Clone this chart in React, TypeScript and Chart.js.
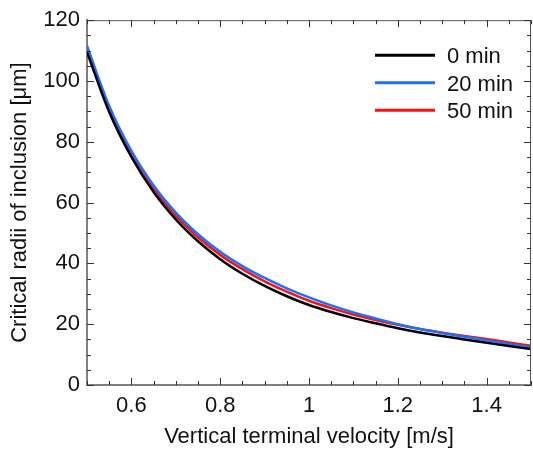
import React, { useEffect, useRef } from 'react';
import { Chart, registerables } from 'chart.js';

Chart.register(...registerables);

// ---- data ----
const velocity = [0.5, 0.55, 0.6, 0.65, 0.7, 0.75, 0.8, 0.85, 0.9, 0.95, 1.0, 1.05, 1.1, 1.15, 1.2, 1.25, 1.3, 1.35, 1.4, 1.45, 1.5];
const radius0min = [109.5, 89.8, 75.0, 63.5, 54.5, 47.3, 41.4, 36.6, 32.6, 29.2, 26.3, 24.0, 22.0, 20.3, 18.7, 17.3, 16.1, 15.0, 13.9, 12.8, 11.8];
const radius20min = [111.5, 91.8, 77.0, 65.6, 56.7, 49.6, 43.8, 39.1, 35.2, 31.8, 28.8, 26.2, 23.9, 21.9, 20.0, 18.4, 17.1, 15.9, 14.7, 13.5, 12.4];
const radius50min = [110.5, 90.8, 76.0, 64.6, 55.7, 48.6, 42.8, 38.1, 34.1, 30.7, 27.7, 25.3, 23.2, 21.4, 19.8, 18.4, 17.2, 16.1, 15.1, 14.0, 12.9];
const seriesLabels = ['0 min', '20 min', '50 min'];
const seriesColors = ['#000000', '#1f6fff', '#ff1010'];
const xMajorTicks = [0.6, 0.8, 1.0, 1.2, 1.4];
const xMinorTicks = [0.5, 0.55, 0.6, 0.65, 0.7, 0.75, 0.8, 0.85, 0.9, 0.95, 1.0, 1.05, 1.1, 1.15, 1.2, 1.25, 1.3, 1.35, 1.4, 1.45, 1.5];
const yMajorTicks = [0, 20, 40, 60, 80, 100, 120];
const yMinorTicks = [0, 5, 10, 15, 20, 25, 30, 35, 40, 45, 50, 55, 60, 65, 70, 75, 80, 85, 90, 95, 100, 105, 110, 115, 120];
const xTitle = 'Vertical terminal velocity [m/s]';
const yTitle = 'Critical radii of inclusion [μm]';

const FONT = '"Liberation Sans", Arial, Helvetica, sans-serif';
const TEXT = '#111111';

const frameTicksPlugin = {
  id: 'frameTicks',
  afterDraw(chart: any) {
    const { ctx, chartArea, scales } = chart;
    const { left, right, top, bottom } = chartArea;
    const x = scales.x;
    const y = scales.y;
    ctx.save();
    ctx.strokeStyle = '#555555';
    ctx.lineWidth = 1;
    ctx.beginPath();
    ctx.moveTo(left, top + 0.5);
    ctx.lineTo(right, top + 0.5);
    ctx.moveTo(right - 0.5, top);
    ctx.lineTo(right - 0.5, bottom);
    ctx.stroke();
    ctx.strokeStyle = '#333333';
    ctx.beginPath();
    xMinorTicks.forEach((v) => {
      const major = xMajorTicks.some((m) => Math.abs(m - v) < 1e-6);
      const len = major ? 7 : 4;
      const px = Math.round(x.getPixelForValue(v)) + 0.5;
      ctx.moveTo(px, bottom);
      ctx.lineTo(px, bottom - len);
      ctx.moveTo(px, top);
      ctx.lineTo(px, top + len);
    });
    yMinorTicks.forEach((v) => {
      const major = yMajorTicks.includes(v);
      const len = major ? 7 : 4;
      const py = Math.round(y.getPixelForValue(v)) + 0.5;
      ctx.moveTo(left, py);
      ctx.lineTo(left + len, py);
      ctx.moveTo(right, py);
      ctx.lineTo(right - len, py);
    });
    ctx.stroke();
    ctx.restore();
  },
};

const legendPlugin = {
  id: 'customLegend',
  afterDatasetsDraw(chart: any) {
    const { ctx, chartArea } = chart;
    const lineStart = chartArea.right - 156;
    const lineEnd = chartArea.right - 96;
    const textX = chartArea.right - 84;
    ctx.save();
    ctx.font = `22px ${FONT}`;
    ctx.textAlign = 'left';
    ctx.textBaseline = 'alphabetic';
    chart.data.datasets.forEach((ds: any, i: number) => {
      const rowY = chartArea.top + 35 + i * 27.5;
      ctx.strokeStyle = ds.borderColor;
      ctx.lineWidth = 3;
      ctx.beginPath();
      ctx.moveTo(lineStart, rowY);
      ctx.lineTo(lineEnd, rowY);
      ctx.stroke();
      ctx.fillStyle = TEXT;
      ctx.fillText(ds.label, textX, rowY + 8);
    });
    ctx.restore();
  },
};

export default function App() {
  const canvasRef = useRef<HTMLCanvasElement | null>(null);

  useEffect(() => {
    const canvas = canvasRef.current;
    if (!canvas) return;
    const series = [radius0min, radius20min, radius50min];
    const chart = new Chart(canvas, {
      type: 'line',
      data: {
        datasets: series.map((vals, i) => ({
          label: seriesLabels[i],
          data: velocity.map((v, j) => ({ x: v, y: vals[j] })),
          borderColor: seriesColors[i],
          backgroundColor: seriesColors[i],
          borderWidth: 2.5,
          pointRadius: 0,
          fill: false,
          cubicInterpolationMode: 'monotone' as const,
        })),
      },
      options: {
        responsive: false,
        animation: false,
        devicePixelRatio: 1,
        layout: { padding: { top: 17, right: 2, left: 0, bottom: 0 } },
        plugins: {
          legend: { display: false },
          tooltip: { enabled: false },
        },
        scales: {
          x: {
            type: 'linear',
            min: 0.5,
            max: 1.5,
            afterFit: (s: any) => { s.height = 67; },
            afterBuildTicks: (s: any) => { s.ticks = xMajorTicks.map((v) => ({ value: v })); },
            grid: { display: false, drawTicks: false },
            border: { display: true, color: '#808080', width: 2 },
            ticks: {
              color: TEXT,
              font: { family: FONT, size: 22 },
              padding: 8,
              maxRotation: 0,
              callback: (v: any) => String(Number(Number(v).toFixed(2))),
            },
            title: {
              display: true,
              text: xTitle,
              color: TEXT,
              font: { family: FONT, size: 22 },
              padding: { top: 0, bottom: 2 },
            },
          },
          y: {
            type: 'linear',
            min: 0,
            max: 120,
            afterFit: (s: any) => { s.width = 87; },
            afterBuildTicks: (s: any) => { s.ticks = yMajorTicks.map((v) => ({ value: v })); },
            grid: { display: false, drawTicks: false },
            border: { display: true, color: '#808080', width: 2 },
            ticks: {
              color: TEXT,
              font: { family: FONT, size: 22 },
              padding: 7,
            },
            title: {
              display: true,
              text: yTitle,
              color: TEXT,
              font: { family: FONT, size: 22 },
              padding: { top: 7, bottom: 0 },
            },
          },
        },
      },
      plugins: [frameTicksPlugin, legendPlugin],
    });
    return () => chart.destroy();
  }, []);

  return (
    <div style={{ position: 'fixed', left: 0, top: 0, width: 533, height: 452, background: '#ffffff' }}>
      <canvas ref={canvasRef} width={533} height={452} style={{ width: 533, height: 452, display: 'block' }} />
    </div>
  );
}
